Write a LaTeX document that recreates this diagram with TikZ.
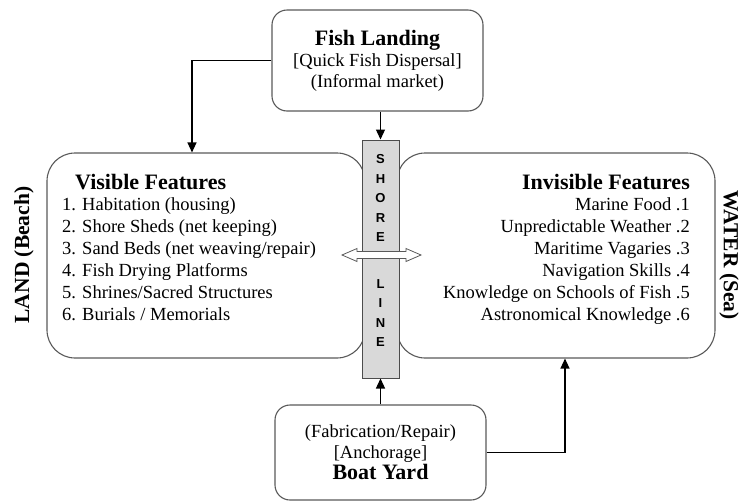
\documentclass[tikz,border=0pt]{standalone}
\usepackage{fontspec}
\setmainfont{Liberation Serif}
\newfontfamily\shorefont{Liberation Sans}
\usetikzlibrary{arrows.meta,positioning}

\tikzset{
  featbox/.style={draw=black!65, line width=1.1pt, rounded corners=28pt, inner sep=0pt},
  infobox/.style={draw=black!65, line width=1.1pt, rounded corners=15pt, align=center,
    font=\fontsize{18.5}{21}\selectfont},
  boxtitle/.style={font=\fontsize{22}{22}\selectfont\bfseries, inner sep=0pt},
  item/.style={font=\fontsize{18.5}{22}\selectfont, inner sep=0pt},
  link/.style={line width=1.3pt, -{Triangle[length=10pt,width=9pt]}},
  sideword/.style={font=\fontsize{21.5}{24}\selectfont\bfseries, inner sep=0pt},
  shorechar/.style={font=\shorefont\fontsize{13}{14}\selectfont\bfseries, inner sep=0pt},
}

\begin{document}
\begin{tikzpicture}[x=1pt,y=-1pt]
            \useasboundingbox (0,0) rectangle (748,504);
            \node[featbox, minimum width=318pt, minimum height=205pt] (visible) at (206,255.5) {};
            \node[featbox, minimum width=318pt, minimum height=205pt] (invisible) at (556,255.5) {};
            \node[boxtitle, anchor=base west] (vistitle) at (75,189) {Visible Features};
            \node[boxtitle, anchor=base east] (invtitle) at (690,189) {Invisible Features};
            \foreach \txt [count=\i] in {Habitation (housing), Shore Sheds (net keeping),
                Sand Beds (net weaving/repair), Fish Drying Platforms,
                Shrines/Sacred Structures, Burials / Memorials}
                \node[item, anchor=base west] (vis\i) at (62,188+22*\i) {\i. \txt};
            \foreach \txt [count=\i] in {Marine Food, Unpredictable Weather, Maritime Vagaries,
                Navigation Skills, Knowledge on Schools of Fish, Astronomical Knowledge}
                \node[item, anchor=base east] (inv\i) at (690,188+22*\i) {\txt\ .\i};
            \node[draw=black!70, line width=1pt, fill=black!15, minimum width=37pt,
                minimum height=238pt, inner sep=0pt] (shore) at (380.5,259) {};
            \foreach \ch [count=\i] in {S,H,O,R,E}
                \node[shorechar] (up\i) at (380.5,140+19.5*\i) {\ch};
            \foreach \ch [count=\i] in {L,I,N,E}
                \node[shorechar] (down\i) at (380.5,264.5+19.5*\i) {\ch};
            \draw[draw=black!65, line width=0.8pt, fill=white] (342,255) -- (357,248.5) -- (357,251.5)
                -- (406,251.5) -- (406,248.5) -- (421,255) -- (406,261.5) -- (406,258.5)
                -- (357,258.5) -- (357,261.5) -- cycle;
            \node[infobox, minimum width=211pt, minimum height=101pt] (landing) at (377.5,60.5)
                {\textbf{\fontsize{22}{22}\selectfont Fish Landing}\\{[}Quick Fish Dispersal{]}\\(Informal market)};
            \node[infobox, minimum width=211pt, minimum height=95pt] (boatyard) at (380.5,452.5)
                {(Fabrication/Repair)\\{[}Anchorage{]}\\\textbf{\fontsize{22}{22}\selectfont Boat Yard}};
            \coordinate (bendL) at (192,0);
            \coordinate (bendR) at (565,0);
            \draw[link] (landing.west) -| (bendL |- visible.north);
            \draw[link] (landing.south -| shore.north) -- (shore.north);
            \draw[link] (boatyard.north -| shore.south) -- (shore.south);
            \draw[link] (boatyard.east) -| (bendR |- invisible.south);
            \node[sideword, rotate=90] (land) at (24,255) {LAND (Beach)};
            \node[sideword, rotate=-90] (water) at (729,255) {WATER (Sea)};
        \end{tikzpicture}
\end{document}
